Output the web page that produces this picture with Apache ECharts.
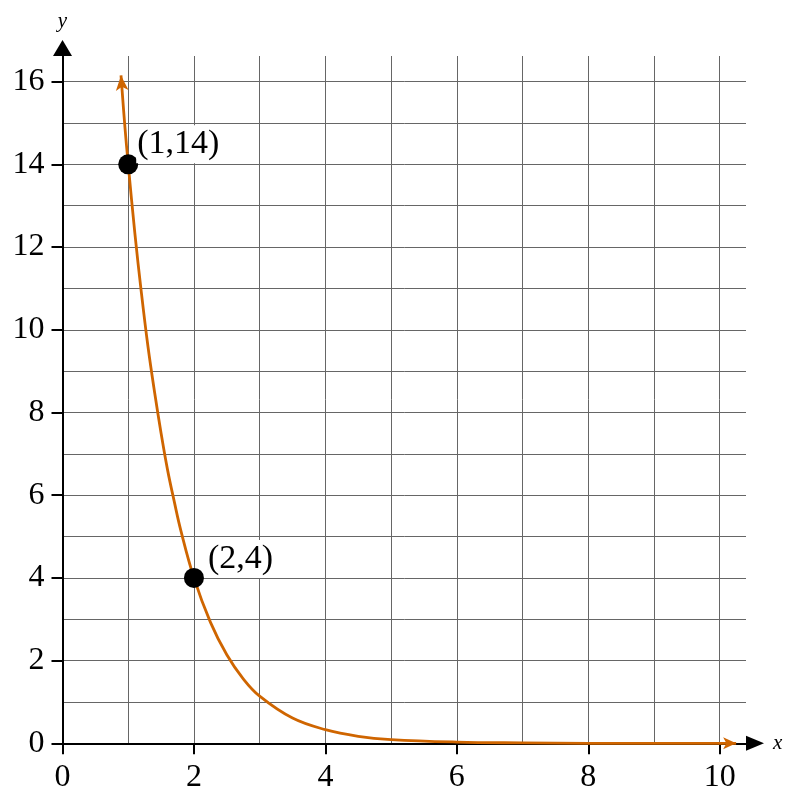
<!DOCTYPE html>
<html><head><meta charset="utf-8">
<script src="https://cdn.jsdelivr.net/npm/echarts@6/dist/echarts.min.js"></script>
<style>html,body{margin:0;padding:0;background:#fff}#c{width:800px;height:800px}</style>
</head><body><div id="c"></div>
<script>
// tick labels
const xTickLabels = [0, 2, 4, 6, 8, 10];
const yTickLabels = [0, 2, 4, 6, 8, 10, 12, 14, 16];
// curve
const curveX = [0.89, 0.95, 1.0, 1.1, 1.2, 1.3, 1.4, 1.5, 1.6, 1.7, 1.8, 2.0, 2.25, 2.5, 2.75, 3.0, 3.5, 4.0, 4.5, 5.0, 6.0, 7.0, 8.0, 9.0, 10.25];
const curveY = [16.15, 14.9, 14.0, 12.35, 10.9, 9.6, 8.5, 7.5, 6.6, 5.85, 5.15, 4.0, 2.93, 2.14, 1.56, 1.14, 0.61, 0.33, 0.17, 0.09, 0.03, 0.01, 0, 0, 0];
// labelled points
const pointX = [1, 2];
const pointY = [14, 4];

const FONT = '"Liberation Serif", "DejaVu Serif", serif';
const ORANGE = '#cf6500';
const GRIDC = '#666';
const X_MAX = 10.4, Y_MAX = 16.62;

const chart = echarts.init(document.getElementById('c'), null, {renderer: 'canvas'});

// grid axes: split lines every unit + axis line with arrow
function gridAxis(max, name, nameGap, symSize, symOff) {
  return {
    type: 'value', min: 0, max: max, interval: 1,
    name: name, nameLocation: 'end', nameGap: nameGap,
    nameTextStyle: {fontFamily: FONT, fontStyle: 'italic', fontSize: 21, color: '#000'},
    axisLine: {show: true, onZero: false, lineStyle: {color: '#000', width: 2},
               symbol: ['none', 'triangle'], symbolSize: symSize, symbolOffset: [0, symOff]},
    axisTick: {show: false},
    axisLabel: {show: false},
    splitLine: {show: true, showMinLine: false, showMaxLine: false, lineStyle: {color: GRIDC, width: 1}}
  };
}
// tick/label axes: ticks and labels only at the even values
function tickAxis(max, values, pos) {
  return {
    type: 'value', min: 0, max: max, interval: 1, position: pos, offset: 0,
    axisLine: {show: false},
    axisTick: {show: true, length: 11, lineStyle: {color: '#000', width: 2}, customValues: values},
    axisLabel: {show: true, color: '#000', fontFamily: FONT, fontSize: 32, margin: 18, customValues: values},
    splitLine: {show: false}
  };
}

const lastI = curveX.length - 1;

const option = {
  animation: false,
  backgroundColor: '#fff',
  grid: {left: 62.5, right: 54, top: 56, bottom: 56.7, outerBoundsMode: 'none', containLabel: false},
  xAxis: [gridAxis(X_MAX, 'x', 27, [15, 18], 9), tickAxis(X_MAX, xTickLabels, 'bottom')],
  yAxis: [gridAxis(Y_MAX, 'y', 24, [19, 16], 8), tickAxis(Y_MAX, yTickLabels, 'left')],
  series: [
    {
      type: 'line',
      data: curveX.map((x, i) => [x, curveY[i]]),
      smooth: 0.4,
      symbol: 'none',
      lineStyle: {color: ORANGE, width: 2.8},
      itemStyle: {color: ORANGE},
      z: 3,
      clip: false
    },
    {
      type: 'scatter',
      data: [
        {value: [curveX[0], curveY[0]], symbolRotate: 4.6, symbolSize: [9.5, 15]},
        {value: [curveX[lastI], curveY[lastI]], symbolRotate: -90, symbolSize: [9, 13]}
      ],
      symbol: 'arrow',
      itemStyle: {color: ORANGE, opacity: 1},
      z: 4,
      clip: false,
      silent: true
    },
    {
      type: 'scatter',
      data: pointX.map((x, i) => ({
        value: [x, pointY[i]],
        label: {offset: i === 0 ? [-7, -20] : [-2, -19]}
      })),
      symbol: 'circle',
      symbolSize: 20,
      itemStyle: {color: '#000', opacity: 1},
      z: 5,
      label: {
        show: true,
        position: 'right',
        distance: 5,
        formatter: p => '(' + p.value[0] + ',' + p.value[1] + ')',
        fontFamily: FONT,
        fontSize: 34,
        color: '#000',
        opacity: 1,
        backgroundColor: '#fff',
        padding: [2, 1]
      }
    }
  ]
};
chart.setOption(option);
</script>
</body></html>
